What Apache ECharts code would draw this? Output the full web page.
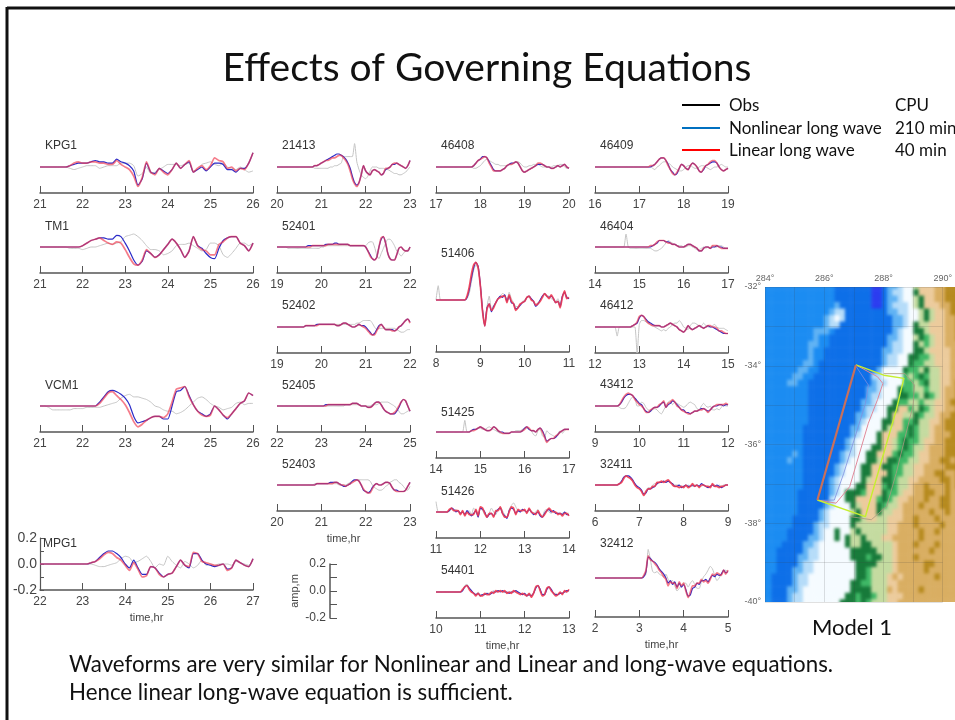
<!DOCTYPE html>
<html>
<head>
<meta charset="utf-8">
<title>Effects of Governing Equations</title>
<script src="https://cdn.jsdelivr.net/npm/echarts@6/dist/echarts.min.js"></script>
<style>
html, body { margin: 0; padding: 0; background: #fff; overflow: hidden; }
#mapClip { position: absolute; left: 765px; top: 287px; width: 190px; height: 315px; overflow: hidden; z-index: 1; }
#map { position: absolute; left: -4px; top: -4px; width: 200px; height: 323px; filter: blur(1.6px); }
#main { position: absolute; left: 0; top: 0; width: 955px; height: 720px; z-index: 2; filter: blur(0.45px); }
#slide { position: absolute; left: 0; top: 0; width: 955px; height: 720px; z-index: 3; pointer-events: none; }
</style>
</head>
<body>
<div id="mapClip"><div id="map"></div></div>
<div id="main"></div>
<div id="slide"></div>
<script>
// sample offsets from the start of a panel, hours
var hours5 = [0,.1,.2,.3,.4,.5,.6,.7,.8,.9, 1,1.1,1.2,1.3,1.4,1.5,1.6,1.7,1.8,1.9, 2,2.1,2.2,2.3,2.4,2.5,2.6,2.7,2.8,2.9, 3,3.1,3.2,3.3,3.4,3.5,3.6,3.7,3.8,3.9, 4,4.1,4.2,4.3,4.4,4.5,4.6,4.7,4.8,4.9, 5];
var hours3 = [0,.05,.1,.15,.2,.25,.3,.35,.4,.45, .5,.55,.6,.65,.7,.75,.8,.85,.9,.95, 1,1.05,1.1,1.15,1.2,1.25,1.3,1.35,1.4,1.45, 1.5,1.55,1.6,1.65,1.7,1.75,1.8,1.85,1.9,1.95, 2,2.05,2.1,2.15,2.2,2.25,2.3,2.35,2.4,2.45, 2.5,2.55,2.6,2.65,2.7,2.75,2.8,2.85,2.9,2.95, 3];

// amplitudes in cm
var kpg1Obs = [0,0,0,0,0,0,0,-1,-2,-1, 0,1,1,1,-1,0,1,1,1,3, 3,3,1,-7,-5,0,-5,-4,-2,0, 2,2,2,1,2,3,-3,-2,2,3, 4,2,1,3,0,-1,-2,0,-2,-4, -3];
var kpg1Nonlinear = [0,0,0,0,0,0,0,1,2,3, 3,3,4,5,4,4,3,3,6,4, 3,1,-3,-14,-9,3,-4,-5,-1,-3, -5,-2,3,-1,2,4,-4,-2,0,-3, 0,3,3,2,-2,-2,-4,-1,-1,3, 11];
var kpg1Linear = [0,0,0,0,0,0,0,1,3,4, 3,3,4,4,3,3,2,2,5,2, 0,-2,-7,-15,-8,4,-4,-6,-1,-4, -6,-2,3,-1,2,5,-4,-1,1,-2, 1,7,5,4,-1,0,-3,-1,-2,3, 11];

var tm1Obs = [0,0,0,0,0,0,0,-1,-1,-1, -2,-1,0,0,1,2,3,2,3,4, 8,9,10,8,5,1,-2,-2,-3,-6, -5,-3,1,2,2,3,1,-1,-3,-2, 3,3,1,-6,-8,-5,-1,3,3,1, 3];
var tm1Nonlinear = [0,0,0,0,0,0,0,0,0,0, 1,3,5,6,7,7,6,6,9,8, 3,-3,-10,-14,-11,-3,-5,-8,-6,-2, 2,6,3,-2,-8,-3,8,1,-1,-5, -8,-9,-1,5,7,8,8,3,1,-3, 3];
var tm1Linear = [0,0,0,0,0,0,0,0,0,0, 1,3,5,6,7,5,3,2,4,3, -2,-8,-13,-14,-10,-2,-5,-8,-6,-2, 2,6,3,-2,-8,-3,8,1,-2,-3, -6,-6,2,4,7,8,8,3,1,-3, 3];

var vcm1Obs = [0,0,-1,-3,-3,-3,-3,-3,-2,-2, -2,-1,-1,-1,-1,0,1,2,3,6, 8,9,7,7,6,5,3,0,-1,-3, -4,-4,-6,-5,-3,0,3,6,7,5, 2,0,-1,-3,-2,-1,2,3,1,2, 2];
var vcm1Nonlinear = [0,0,0,0,0,0,0,0,0,0, 0,0,0,0,3,7,11,12,11,9, 6,1,-8,-13,-12,-11,-9,-8,-8,-10, -10,0,11,12,15,8,1,-4,-6,-8, -6,0,-3,-7,-10,-6,-2,2,4,10, 8];
var vcm1Linear = [0,0,0,0,0,0,0,0,0,0, 0,0,0,0,2,6,10,11,8,5, 1,-5,-12,-16,-14,-11,-9,-8,-8,-9, -6,3,13,14,15,7,1,-4,-7,-8, -7,0,-3,-7,-9,-6,-2,2,4,10, 8];

var mpg1Obs = [0,0,0,0,0,0,0,0,0,0, 0,0,0,-1,-2,-2,-1,0,1,4, 6,5,1,2,4,6,2,-3,0,-1, 6,2,-1,-3,2,0,-3,-1,3,-1, 0,-1,0,0,0,-1,2,1,0,-1, 3];
var mpg1Nonlinear = [0,0,0,0,0,0,0,0,0,0, 0,0,1,2,5,8,10,10,8,5, 0,-3,3,-3,-8,-8,-2,-3,-7,-10, -8,-7,-2,3,-1,-3,8,8,3,0, -1,-2,-1,0,-4,-3,3,1,-1,-2, 4];
var mpg1Linear = [0,0,0,0,0,0,0,0,0,0, 0,0,1,2,4,7,9,8,5,3, -1,-5,1,-4,-10,-9,-2,-3,-8,-10, -8,-7,-2,3,-1,-2,9,8,2,1, 0,-1,-1,0,-5,-3,3,1,-1,-2, 4];

var s21413Obs = [0,0,0,0,0,0,0,0,0,0, 0,0,0,0,0,0,0,-1,-1,-1, -1,-1,-1,-1,0,0,1,1,2,3, 8,8,8,8,8,18,4,-2,-6,-8, -9,-7,-3,0,0,0,-1,-1,-1,-2, -2,-3,-4,-5,-5,-6,-6,-5,-4,-2, 0];
var s21413Nonlinear = [0,0,0,0,0,0,0,0,0,0, 0,0,0,0,0,0,0,1,1,2, 3,4,5,6,7,8,9,10,10,9, 8,6,3,-1,-7,-12,-14,-12,-6,1, -3,-5,-6,-3,-2,-3,-4,-6,-5,-2, -1,0,2,2,3,2,1,0,-1,1, 5];
var s21413Linear = [0,0,0,0,0,0,0,0,0,0, 0,0,0,0,0,0,0,1,1,2, 3,4,5,5,6,7,7,8,9,9, 7,5,2,-3,-9,-13,-15,-12,-6,1, -3,-5,-6,-3,-2,-3,-4,-6,-5,-1, -1,0,2,3,3,2,1,0,-1,1, 5];

var s52401Obs = [0,0,0,0,0,-1,-1,-1,-1,-1, -1,-1,-1,-1,-1,-1,-1,-1,-1,-1, 0,0,1,1,1,1,1,1,1,1, 1,1,1,1,1,1,1,1,1,1, 1,3,4,4,0,-6,-9,-5,-1,3, 6,6,4,1,-3,-5,-7,-5,-3,-2, 0];
var s52401Nonlinear = [0,0,0,0,0,0,0,0,0,0, 0,0,0,0,1,1,1,1,1,1, 1,1,2,2,2,2,3,3,2,2, 2,2,2,1,1,1,1,1,1,1, 0,-3,-6,-9,-10,-8,0,6,8,3, -5,-9,-10,-10,-6,-1,0,-2,-3,-3, 0];
var s52401Linear = [0,0,0,0,0,0,0,0,0,0, 0,0,0,0,0,0,1,1,1,1, 1,1,1,2,2,2,2,2,2,2, 2,2,2,1,1,1,1,1,1,1, 0,-3,-7,-9,-10,-8,0,7,8,3, -5,-9,-10,-10,-6,-1,0,-2,-3,-3, 0];

var s52402Obs = [0,0,0,0,0,0,0,0,0,0, 0,0,0,1,1,1,1,1,2,2, 2,2,2,2,2,2,2,2,2,2, 2,2,2,2,2,2,3,3,4,5, 5,5,5,3,0,-2,-1,-1,-1,-1, -1,-1,-1,-1,-2,-3,-4,-4,-3,-2, -2];
var s52402Nonlinear = [0,0,0,0,0,0,0,0,0,0, 0,0,0,1,1,1,1,1,2,2, 2,2,2,2,2,2,2,1,1,2, 3,3,2,1,0,0,1,2,1,1, 0,-2,-4,-6,-5,-2,1,2,0,-2, -2,-2,-2,-3,-2,0,1,3,5,6, 4];
var s52402Linear = [0,0,0,0,0,0,0,0,0,0, 0,0,0,1,1,1,1,1,1,2, 2,2,2,2,2,2,2,1,1,2, 3,3,2,1,0,0,1,2,1,0, -1,-3,-5,-6,-6,-3,0,2,0,-2, -2,-2,-3,-3,-2,0,1,3,5,6, 3];

var s52405Obs = [0,0,0,0,0,0,0,0,0,0, 0,0,0,0,0,0,0,0,0,0, 0,0,0,0,0,0,0,0,0,0, 0,1,1,1,1,1,1,1,0,0, 0,0,0,1,1,1,2,3,3,3, 3,2,1,0,-2,-4,-6,-6,-5,-4, -3];
var s52405Nonlinear = [0,0,0,0,0,0,0,0,0,0, 0,0,0,0,0,0,0,0,0,0, 0,0,1,1,1,1,1,1,1,1, 1,1,1,1,2,2,2,1,0,0, 0,-1,-1,0,2,3,3,1,-2,-4, -5,-6,-6,-6,-4,-1,3,5,4,0, -4];
var s52405Linear = [0,0,0,0,0,0,0,0,0,0, 0,0,0,0,0,0,0,0,0,0, 0,0,0,1,1,1,1,1,1,1, 1,1,1,1,2,2,2,1,0,0, 0,-1,-1,0,2,3,3,1,-2,-4, -5,-6,-6,-5,-3,0,3,5,4,0, -4];

var s52403Obs = [0,0,0,0,0,0,0,0,0,0, 0,0,0,0,0,0,0,1,1,1, 1,1,1,1,1,1,1,1,0,0, 0,0,1,2,3,3,4,4,4,4, 4,4,3,0,-2,-3,-4,-4,-3,-1, 0,2,3,4,4,2,1,-1,-3,-4, -1];
var s52403Nonlinear = [0,0,0,0,0,0,0,0,0,0, 0,0,0,0,0,0,0,0,1,1, 1,1,1,1,2,2,2,2,1,0, -1,-1,0,1,3,4,4,3,0,-4, -5,-6,-5,-2,0,1,0,0,1,2, 2,1,-2,-4,-4,-5,-5,-5,-4,-1, 2];
var s52403Linear = [0,0,0,0,0,0,0,0,0,0, 0,0,0,0,0,0,0,0,1,1, 1,1,1,1,1,1,2,2,1,0, 0,-1,0,1,2,3,4,3,0,-3, -5,-6,-6,-3,0,1,0,0,1,2, 2,1,-2,-4,-5,-5,-5,-5,-4,-1, 2];

var s46408Obs = [0,0,0,0,0,0,0,0,0,0, 0,0,0,0,0,0,0,-1,-1,0, 1,3,5,6,5,4,3,2,2,1, 1,1,1,2,2,3,4,4,3,1, 0,0,1,1,2,2,2,1,0,0, 0,0,0,1,1,1,2,2,0,-1, -1];
var s46408Nonlinear = [0,0,0,0,0,0,0,0,0,0, 0,0,0,0,0,0,0,1,3,5, 6,8,8,7,4,1,-2,-3,-3,-3, -2,-1,1,2,3,3,4,3,0,-3, -4,-3,-2,-1,0,1,2,2,2,1, 0,0,-1,-1,0,1,0,1,2,0, -1];
var s46408Linear = [0,0,0,0,0,0,0,0,0,0, 0,0,0,0,0,0,0,1,3,5, 6,7,8,7,3,0,-3,-3,-3,-3, -2,-1,1,2,2,3,4,3,0,-3, -4,-3,-2,-1,0,1,3,3,2,1, 0,0,-1,-1,0,1,0,1,2,0, -1];

var s51406Obs = [0,11,0,0,0,0,0,0,0,0, 0,0,0,0,1,5,14,23,27,24, 11,-7,-18,-5,3,-7,-4,-2,1,3, 5,4,-1,6,1,-2,-5,-5,-3,-1, 0,2,2,1,-1,-3,-2,0,3,4, 3,3,1,0,-1,1,-3,3,5,3, 1];
var s51406Nonlinear = [0,0,0,0,0,0,0,0,0,0, 0,0,0,0,2,8,17,25,29,26, 12,-8,-20,-6,-3,-9,-5,-2,1,3, 2,4,-1,3,-2,-3,-7,-6,-4,-2, -1,2,3,1,-1,-5,-3,0,3,5, 3,2,3,1,-2,-1,-5,3,6,2, 1];
var s51406Linear = [0,0,0,0,0,0,0,0,0,0, 0,0,0,0,3,10,20,27,29,25, 11,-9,-20,-7,-3,-8,-6,-2,1,2, 3,3,-2,4,-1,-3,-8,-6,-3,-2, -1,2,3,0,-1,-4,-3,-1,2,5, 3,1,4,1,-2,-1,-6,2,7,1, 2];

var s51425Obs = [0,0,0,0,0,0,0,0,0,0, 0,0,0,9,0,0,1,2,2,3, 3,2,2,3,4,3,2,1,0,-1, -1,-1,-1,-1,0,0,1,1,1,2, 3,3,2,1,-2,-3,1,2,-3,-4, 1,-1,-2,-3,-4,-1,1,-1,1,2, 2];
var s51425Nonlinear = [0,0,0,0,0,0,0,0,0,0, 0,0,0,0,0,0,1,2,2,3, 4,3,2,1,1,2,4,3,1,0, 0,-1,-1,-1,0,0,0,0,0,1, 3,4,2,1,1,0,2,3,1,-3, -7,-6,-5,-5,-4,-2,0,1,2,2, 2];
var s51425Linear = [0,0,0,0,0,0,0,0,0,0, 0,0,0,0,0,0,1,1,2,3, 4,3,2,1,1,2,4,3,1,0, -1,-1,-1,-1,0,0,0,0,0,1, 2,4,3,1,1,0,2,3,0,-4, -8,-6,-5,-5,-3,-2,0,1,2,2, 2];

var s51426Obs = [8,0,0,0,0,0,1,2,1,2, 0,-1,1,-2,0,1,-2,3,1,-3, 3,1,-2,-3,-1,3,0,-2,2,4, 1,-2,-4,2,5,7,4,1,0,2, 1,-1,2,1,-1,0,2,-2,-3,1, 2,0,-1,1,0,-1,-2,-1,0,-1, -1];
var s51426Nonlinear = [0,0,0,0,0,0,1,3,2,0, 1,-1,0,-2,1,-1,-3,-1,1,-4, 3,2,0,-4,-2,-1,-3,0,2,3, -1,-3,-5,1,3,2,-1,1,0,2, 1,0,2,0,-2,-1,0,-3,-4,-1, 1,2,0,1,-1,-1,-1,-2,0,-2, -2];
var s51426Linear = [0,0,0,0,0,0,2,3,1,1, 1,-2,1,-3,0,-2,-2,-2,2,-3, 4,3,-1,-4,-1,-1,-4,1,1,4, -1,-4,-4,0,4,3,-2,2,1,1, 2,-1,3,0,-1,-2,1,-2,-4,-2, 1,3,1,0,0,-2,-1,-3,-1,-1, -3];

var s54401Obs = [0,0,0,0,0,0,0,0,0,0, 0,0,1,5,6,2,1,-1,-2,0, -2,-2,-1,-1,-1,0,1,0,1,1, 0,0,-1,0,0,1,0,0,-1,-2, -1,-3,-1,-2,-1,3,5,1,-2,-1, 3,3,2,-1,-1,-2,0,-1,1,0, 1];
var s54401Nonlinear = [0,0,0,0,0,0,0,0,0,0, 0,0,1,4,5,3,1,-1,-2,-1, -3,-2,-2,-1,-2,-1,0,0,1,0, 1,0,0,-1,0,0,1,0,-1,-2, -1,-3,-2,-3,-1,3,5,2,-2,-2, 2,4,2,-1,-2,-2,-1,-1,0,1, 1];
var s54401Linear = [0,0,0,0,0,0,0,0,0,0, 0,0,2,4,5,2,0,-1,-3,-1, -3,-3,-1,-2,-2,0,-1,1,0,1, 0,1,-1,0,-1,1,0,-1,-2,-1, -2,-3,-1,-4,-1,4,5,1,-3,-2, 3,4,1,-1,-3,-2,0,-2,1,0, 2];

var s46409Obs = [0,0,0,0,0,0,0,0,0,0, 0,0,0,0,0,0,0,0,0,0, 0,0,0,0,0,0,-1,-2,0,1, 3,4,4,3,2,0,-1,-2,-3,-3, -2,0,1,1,0,-1,-1,0,1,1, 0,-1,-2,-1,0,0,1,2,1,0, 0];
var s46409Nonlinear = [0,0,0,0,0,0,0,0,0,0, 0,0,0,0,0,0,0,0,0,0, 0,0,0,0,0,0,1,2,4,6, 7,7,5,2,-2,-4,-6,-5,-1,2, 1,-1,-2,1,3,2,0,-3,-4,-2, 1,2,3,4,4,3,0,-2,-3,-2, -1];
var s46409Linear = [0,0,0,0,0,0,0,0,0,0, 0,0,0,0,0,0,0,0,0,0, 0,0,0,0,0,1,1,2,4,6, 7,7,5,1,-2,-5,-6,-4,-1,2, 1,-1,-2,1,3,2,0,-3,-4,-1, 1,2,4,5,5,3,0,-2,-3,-2, -1];

var s46404Obs = [0,0,0,0,0,0,0,0,0,0, 0,0,0,0,10,0,-1,-1,-1,-1, -1,-1,-1,-1,-1,-1,-2,-3,-3,-2, -1,1,3,5,4,3,2,1,1,1, 0,0,1,1,0,-1,-2,-2,-1,0, -1,0,-1,1,0,0,1,1,0,-1, -1];
var s46404Nonlinear = [0,0,0,0,0,0,0,0,0,0, 0,0,0,0,0,0,0,0,0,0, 0,0,0,0,0,0,1,2,3,5, 5,5,4,4,3,2,2,1,0,0, 0,1,2,2,1,0,-1,-3,-3,-1, 0,0,-1,0,0,1,0,0,-1,-1, -1];
var s46404Linear = [0,0,0,0,0,0,0,0,0,0, 0,0,0,0,0,0,0,0,0,0, 0,0,0,0,0,1,1,2,4,5, 5,5,4,3,3,2,2,1,0,0, 0,1,2,2,1,0,-1,-3,-3,-1, 0,0,-1,1,1,1,0,-1,-1,-1, -1];

var s46412Obs = [0,0,0,0,0,0,0,0,0,0, -7,0,0,0,0,0,0,0,0,-20, 2,5,5,4,3,2,1,0,-1,-2, -3,-2,-3,-1,0,2,3,3,5,3, 0,-1,-2,1,3,3,2,1,1,3, 1,0,0,1,2,0,-1,-1,-1,-2, -3];
var s46412Nonlinear = [0,0,0,0,0,0,0,0,0,0, 0,0,0,0,0,0,0,1,2,3, 7,9,8,6,4,3,2,1,1,1, 0,0,1,2,3,2,1,0,-2,-3, -4,-2,1,-1,-2,-1,0,1,0,-1, 0,1,0,0,-1,-2,-3,-4,-5,-5, -5];
var s46412Linear = [0,0,0,0,0,0,0,0,0,0, 0,0,0,0,0,0,0,1,2,4, 8,9,8,5,3,2,1,1,1,1, 0,0,1,2,3,2,1,0,-2,-3, -4,-2,1,-1,-2,-1,0,1,0,-1, 0,1,1,0,0,-1,-3,-3,-4,-5, -5];

var s43412Obs = [0,0,0,0,0,0,0,0,0,0, 0,-1,-2,-2,-1,2,5,7,6,0, 0,3,2,-1,-3,-4,-3,-2,-3,-5, -6,-3,0,3,4,1,3,2,1,0, -1,0,2,3,2,1,-2,-3,0,2, 0,-1,0,-3,-3,-2,-3,-1,1,0, 0];
var s43412Nonlinear = [0,0,0,0,0,0,0,0,0,0, 0,1,3,6,8,9,9,8,6,4, 2,1,-2,-4,-5,-4,-2,-1,-1,0, 2,3,-1,1,2,4,3,1,-1,-3, -3,-5,-5,-6,-5,-4,-4,-3,-2,-2, -3,-4,-3,-1,0,0,1,1,0,1, 1];
var s43412Linear = [0,0,0,0,0,0,0,0,0,0, 0,1,4,7,9,10,9,8,5,3, 1,0,-2,-5,-5,-3,-2,-1,-1,1, 2,4,-1,2,3,5,3,0,-1,-3, -4,-5,-6,-6,-5,-4,-4,-3,-3,-2, -3,-5,-3,-1,0,1,1,1,1,2, 1];

var s32411Obs = [0,0,0,0,0,0,0,0,0,0, 0,1,3,6,7,6,5,3,1,-1, -3,-5,-7,-4,-2,-2,0,1,1,2, 2,3,2,3,2,1,0,0,0,-1, -1,-1,0,-1,-1,0,0,-1,-1,0, -1,-1,-1,0,0,-1,0,-1,0,0, 0];
var s32411Nonlinear = [0,0,0,0,0,0,0,0,0,0, 0,1,3,6,7,7,6,4,1,-1, -2,-4,-7,-6,-3,-3,-2,-1,1,2, 2,3,2,3,2,1,-1,-1,0,-2, -1,0,-1,-1,0,-1,0,-1,1,0, -1,-2,-1,0,-1,0,-1,-2,-1,0, 0];
var s32411Linear = [0,0,0,0,0,0,0,0,0,0, 0,1,2,5,7,6,5,3,0,-2, -3,-5,-8,-5,-3,-3,-1,-1,2,2, 3,2,3,4,2,0,-1,-1,-2,-1, -2,0,-2,-1,1,-1,0,-2,0,0, -1,-1,-2,1,-1,-1,-2,-1,-1,0, 0];

var s32412Obs = [0,0,0,0,0,0,0,0,0,0, 0,0,0,0,0,0,0,0,0,0, 0,0,1,3,22,14,5,4,5,3, 2,1,3,-1,-3,-2,-6,-10,-8,-6, -4,-4,-7,-4,-2,-5,-8,-8,-3,1, 3,6,9,7,2,-2,0,3,5,6, 5];
var s32412Nonlinear = [0,0,0,0,0,0,0,0,0,0, 0,0,0,0,0,0,0,0,0,0, 0,0,1,5,16,15,13,12,10,7, 5,3,0,-4,-2,-5,-3,-7,-4,-7, -5,-9,-14,-13,-8,-7,-4,-5,-2,-2, -1,-3,0,2,1,3,2,3,6,4, 5];
var s32412Linear = [0,0,0,0,0,0,0,0,0,0, 0,0,0,0,0,0,0,0,0,0, 0,0,2,6,17,14,13,11,9,6, 4,1,-1,-6,-3,-4,-4,-8,-3,-6, -4,-10,-15,-11,-6,-6,-4,-4,-1,-3, -2,-4,-1,3,2,4,3,2,6,3, 6];

var slideTitle = 'Effects of Governing Equations';
var noteLines = ['Waveforms are very similar for Nonlinear and Linear and long-wave equations.', 'Hence linear long-wave equation is sufficient.'];
var legendNames = ['Obs', 'Nonlinear long wave', 'Linear long wave'];
var cpuNotes = ['CPU', '210 min', '40 min'];

// station, first hour, length in hours, obs, nonlinear, linear
var panels = [
	['KPG1', 21, 5, kpg1Obs, kpg1Nonlinear, kpg1Linear],
	['TM1', 21, 5, tm1Obs, tm1Nonlinear, tm1Linear],
	['VCM1', 21, 5, vcm1Obs, vcm1Nonlinear, vcm1Linear],
	['MPG1', 22, 5, mpg1Obs, mpg1Nonlinear, mpg1Linear],
	['21413', 20, 3, s21413Obs, s21413Nonlinear, s21413Linear],
	['52401', 19, 3, s52401Obs, s52401Nonlinear, s52401Linear],
	['52402', 19, 3, s52402Obs, s52402Nonlinear, s52402Linear],
	['52405', 22, 3, s52405Obs, s52405Nonlinear, s52405Linear],
	['52403', 20, 3, s52403Obs, s52403Nonlinear, s52403Linear],
	['46408', 17, 3, s46408Obs, s46408Nonlinear, s46408Linear],
	['51406', 8, 3, s51406Obs, s51406Nonlinear, s51406Linear],
	['51425', 14, 3, s51425Obs, s51425Nonlinear, s51425Linear],
	['51426', 11, 3, s51426Obs, s51426Nonlinear, s51426Linear],
	['54401', 10, 3, s54401Obs, s54401Nonlinear, s54401Linear],
	['46409', 16, 3, s46409Obs, s46409Nonlinear, s46409Linear],
	['46404', 14, 3, s46404Obs, s46404Nonlinear, s46404Linear],
	['46412', 12, 3, s46412Obs, s46412Nonlinear, s46412Linear],
	['43412', 9, 3, s43412Obs, s43412Nonlinear, s43412Linear],
	['32411', 6, 3, s32411Obs, s32411Nonlinear, s32411Linear],
	['32412', 2, 3, s32412Obs, s32412Nonlinear, s32412Linear]
];

// map of the source region, one letter per cell, top row first
var mapRows = [
	'CCCCCCCCCCCCCCBBBBBBBAABDDEFFIJJJKKLLL',
	'CCCCCCCCCCCCCCBBBBBBBAABDEEFFGJJJKKLLL',
	'CCCCCCCCCCCCCCBBBBBBBAABDDEFFIGJJKKLLL',
	'CCCCCCCCCCCCCCDBBBBBBAABDEEEFIGJJJKKLL',
	'CCCCCCCCCCCCCDEEBBBBBBBBDDEEFFIGIJJKLL',
	'CCCCCCCCCCCCDEFEBBBBBBBBBDDEFFIGIJJKKL',
	'CCCCCCCCCCCCDEEBBBBBBBBBBDDEFGIIJJJKKL',
	'CCCCCCCCCCDDDCBBBBBBBBBBBDEFFGGIJJJKKL',
	'CCCCCCCCCCDCCBBBBBBBBBBBDDEFFIGHIJJKKL',
	'CCCCCCCCCDDCCBBBBBBBBBBBDEEFFGIHIJJKKK',
	'CCCCCCCCCDCCBBBBBBBBBBBDDEEFFGGIJJJJKK',
	'CCCCCCCCCDCCBBBBBBBBBBBDEEFFGGHHIJJJKK',
	'CCCCCCCCDDCBBBBBBBBBBBBDEEFFGHHIIJJJKK',
	'CCCCCCCDDCCBBBBBBBBBBBDFFFFGHHIGIIJJKK',
	'CCCCCCDDCCBBBBBBBBBBBEEFFFFHIHGHIIJJKK',
	'CCCCCDDCCBBBBBBBBBBBBDEEFFFHHIHGIIJJKL',
	'CCCCCCCCCBBBBBBBBBBBDDEFFFGHHIIHIIJKKL',
	'CCCCCCCCCBBBBBBBBBBBDEEFFFGGHHIGHIJKKL',
	'CCCCCCCCCBBBBBBBBBBDDEFFFGHHIIHIIJJKLL',
	'CCCCCCCCCBBBBBBBBBBDEEFFGGJJHIGHIJJKKL',
	'CCCCCCCCCBBBBBBBBBDDEFFFGJJIIGHIIJKKLL',
	'CCCCCCCCCBBBBBBBBBDEFFFGGJJHHGIIJJKLLL',
	'CCCCCCCCBBBBBBBBBDDFFFFGIJJHGHIIJKKLLL',
	'CCCCCCCCBBBBBBBBBDEFFFGJJJHHGHIIJKKKLL',
	'CCCCCCCCBBBBBBBBDEFFFFGJJIHGHHIJJKKLLL',
	'CCCCCCCCBBBBBBBBDEFFFGGJJIHGHIIJKKKLLL',
	'CCCCCCDCBBBBBBBDEEFFGGJJJHGHHIJJKKKLLL',
	'CCCCCDCCBBBBBBBDEFFFGGIJGGHHIIJJKKLLKL',
	'CCCCCCCCBBBBBBDEFFFGGJJGGHHIIJJKKKKLLL',
	'CCCCCCCCBBBBBBDEFFFGGJJJGHHIIJJKKLLKKL',
	'CCCCCCCCBBBBBDEFFFFGIJJGGHIIJJKKKKLLKL',
	'CCCCCCCCBBBBBDEFFFGGJJJHGHIIJKKLKKKLKL',
	'CCCCCCCBBBBBBDEFGGGHJJJGHHIJJKKLLKKLKK',
	'CCCCCCCBBBBBBEFFGGJJJJHGHIJJKKKLKKLLKK',
	'CCCCCCCBBBBBDEFFFGIJJJGHIIJKKKLKKKLLKK',
	'CCCCCCCBBBBDEFFFFIGJJJGIIJJKKKKKLKKLKK',
	'CCCCCCBBBBBDEFFFFGGIJJIIJJJKKLKKKLKKKK',
	'CCCCCCBBBBDEEFFFFGIIIIIIJJKKKLKKKKLKKK',
	'CCCCCBBBBBDEFFGFFIGIIIIIJJKKKKLKKLKKKK',
	'CCCCCBBBBDDEFFGFGIIGIIIJJKKKKKLKKKKKKK',
	'CCCCBBBBDDEFFFFFGIIGGIIIIJKKKLKKKLKKKK',
	'CCCBBBBBDEEFFFFFFGGGGGIIIJKKKKKKLKKKKK',
	'CCCBBBBDDEEFFFFFFGGGHGGIIJKKKLKKKKKKKK',
	'CCCBBBBDEEFFFFFFFFGGGGIIIJKKKKKLLKKKKK',
	'CCCBBBDDEEFFFFFFFFGGHIIIIJKKKKKLKKKKKK',
	'CCBBBBDEEFFFFFFFFFGGHIIIJKJKKKKKKLKKKK',
	'CCBBBBDEEFFFFFFFFGGHHIIIJJKKKKKKKKKKKK',
	'CCBBBDDEFFFFFFFFFGGGGIIIKJKKKKLKKKKKKK',
	'CCBBBDEEFFFFFFFFGGHGGHIIJJJKKKKKKKKKKK',
	'CCBBBDEEFFFFFFFGGGHGHIIIJJKKKKKKKKKKKK'
];
var mapCodes = 'ABCDEFGHIJKL';
var mapColors = ['#2b3cf0', '#0d6fe8', '#1b8cf2', '#5fb2f4', '#b5dcf9', '#f5fbff', '#177a3a', '#3fb866', '#c4dba0', '#eccb9c', '#d9ae62', '#b68a1e'];

// source outlines as [lon, lat]
var faultOuter = [[287.07,-33.98],[285.77,-37.41]];
var faultPlane = [[287.07,-33.98],[288.01,-34.24],[288.69,-34.32],[288.43,-35.13],[287.39,-37.83],[285.77,-37.41]];
var sourcePink = [[287.07,-33.98],[287.80,-34.28],[287.98,-34.45],[287.80,-34.86],[287.49,-35.46],[286.86,-37.07],[286.40,-37.49],[285.77,-37.41]];
var sourceBlue = [[287.07,-34.01],[287.49,-34.49],[287.39,-34.96],[286.66,-36.73],[286.34,-37.41],[285.82,-37.42]];
var landContour = [[288.01,-34.2],[288.73,-34.2],[289.05,-34.49],[289.0,-35.0],[288.43,-36.73],[288.11,-37.57],[287.59,-37.91],[286.86,-37.83]];

// placement of each panel on the slide: left, width, axis y, y range cm, label y
var panelPlace = {
	'KPG1': [40, 213, 193, 20, 146], 'TM1': [40, 213, 273, 20, 227], 'VCM1': [40, 213, 432, 20, 386], 'MPG1': [40, 213, 590, 20, 544],
	'21413': [277, 133, 193, 20, 146], '52401': [277, 133, 273, 20, 227], '52402': [277, 133, 353, 20, 306], '52405': [277, 133, 432, 20, 386], '52403': [277, 133, 511, 20, 465],
	'46408': [436, 133, 193, 20, 146], '51406': [436, 133, 352, 40, 254], '51425': [436, 133, 458, 20, 413], '51426': [436, 133, 538, 20, 492], '54401': [436, 133, 618, 20, 571],
	'46409': [595, 133, 193, 20, 146], '46404': [595, 133, 273, 20, 227], '46412': [595, 133, 353, 20, 306], '43412': [595, 133, 432, 20, 385], '32411': [595, 133, 511, 20, 465], '32412': [595, 133, 617, 30, 544]
};
var withTimeName = { 'MPG1': 1, '52403': 1, '54401': 1, '32412': 1 };
// panels where the linear trace reads clearly red on top
var redOnTop = { '51406': 1, '51426': 1, '54401': 1, '32411': 1 };

var axisFont = 'Liberation Sans';
var slideFont = 'Lato';
var axisColor = '#555';
var labelColor = '#444';

function pairs(start, hours, values) {
	var out = [];
	for (var i = 0; i < values.length; i++) {
		out.push([start + hours[i], values[i]]);
	}
	return out;
}

function ampLabel(v) {
	return v % 20 == 0 ? (v / 100).toFixed(1) : '';
}

function degLabel(v) {
	return v % 2 == 0 ? v + '°' : '';
}

var grids = [], xAxes = [], yAxes = [], series = [], titles = [];

function buildPanels() {
	for (var i = 0; i < panels.length; i++) {
		var p = panels[i], place = panelPlace[p[0]];
		var range = place[3], h = range * 2.6, idx = grids.length;
		var hours = p[2] == 5 ? hours5 : hours3;
		var isMpg = p[0] == 'MPG1';
		grids.push({ left: place[0], width: place[1], top: place[2] - h, height: h });
		xAxes.push({
			type: 'value', gridIndex: idx, min: p[1], max: p[1] + p[2], interval: 1,
			splitLine: { show: false },
			axisLine: { onZero: false, lineStyle: { color: axisColor, width: 1.5 } },
			axisTick: { inside: true, length: 7, lineStyle: { color: axisColor } },
			axisLabel: { color: labelColor, fontFamily: axisFont, fontSize: 12, margin: 6, showMinLabel: true, showMaxLabel: true },
			name: withTimeName[p[0]] ? 'time,hr' : '', nameLocation: 'middle', nameGap: 22,
			nameTextStyle: { color: labelColor, fontFamily: axisFont, fontSize: 11 }
		});
		yAxes.push({
			type: 'value', gridIndex: idx, min: -range, max: range, interval: 10, show: isMpg,
			splitLine: { show: false },
			axisLine: { lineStyle: { color: axisColor, width: 1.2 } },
			axisTick: { inside: true, length: 4, lineStyle: { color: axisColor } },
			axisLabel: { color: labelColor, fontFamily: axisFont, fontSize: 14, margin: 3, formatter: ampLabel, showMinLabel: true, showMaxLabel: true }
		});
		var styles = [['#c4c4c4', 1, 1], ['#2a2ac8', 1.2, 1], ['#f0384e', 1.7, redOnTop[p[0]] ? 0.88 : 0.66]];
		for (var k = 0; k < 3; k++) {
			series.push({
				type: 'line', xAxisIndex: idx, yAxisIndex: idx, data: pairs(p[1], hours, p[3 + k]),
				showSymbol: false, smooth: 0.2, silent: true, animation: false, clip: false,
				lineStyle: { color: styles[k][0], width: styles[k][1], opacity: styles[k][2] }
			});
		}
		titles.push({
			text: p[0], left: place[0] + (isMpg ? 3 : 5), top: place[4] - 7,
			textStyle: { color: '#333', fontFamily: axisFont, fontSize: 12, fontWeight: 'normal', lineHeight: 14 }, padding: 0
		});
	}
}

// stand-alone amplitude scale in the second column
function buildAmpScale() {
	var idx = grids.length;
	grids.push({ left: 330, width: 10, top: 564, height: 54 });
	xAxes.push({ type: 'value', gridIndex: idx, min: 0, max: 1, show: false });
	yAxes.push({
		type: 'value', gridIndex: idx, min: -20, max: 20, interval: 10,
		splitLine: { show: false },
		axisLine: { lineStyle: { color: axisColor, width: 1.5 } },
		axisTick: { inside: true, length: 7, lineStyle: { color: axisColor } },
		axisLabel: { color: labelColor, fontFamily: axisFont, fontSize: 12, margin: 4, formatter: ampLabel, showMinLabel: true, showMaxLabel: true },
		name: 'amp,m', nameLocation: 'middle', nameRotate: 90, nameGap: 30,
		nameTextStyle: { color: labelColor, fontFamily: axisFont, fontSize: 11 }
	});
}

// lon/lat frame and outlines drawn over the blurred relief
function buildMapFrame() {
	var g = grids.length;
	grids.push({ left: 765, width: 192, top: 287, height: 315 });
	xAxes.push({
		type: 'value', gridIndex: g, position: 'top', min: 284, max: 290, interval: 1,
		axisLine: { show: false }, axisTick: { show: false },
		splitLine: { show: true, lineStyle: { color: 'rgba(60,60,60,0.16)', width: 1 } },
		axisLabel: { color: '#666', fontFamily: axisFont, fontSize: 9, margin: 4, formatter: degLabel, showMaxLabel: true }
	});
	yAxes.push({
		type: 'value', gridIndex: g, min: -40, max: -32, interval: 1,
		axisLine: { show: false }, axisTick: { show: false },
		splitLine: { show: true, lineStyle: { color: 'rgba(60,60,60,0.16)', width: 1 } },
		axisLabel: { color: '#666', fontFamily: axisFont, fontSize: 9, margin: 4, formatter: degLabel, showMinLabel: true, showMaxLabel: true }
	});
	var outlines = [
		[landContour, '#a89a80', 0.8],
		[sourceBlue, '#7f8fe0', 0.8],
		[sourcePink, '#e0899a', 1],
		[faultPlane, '#c6ee30', 1.4],
		[faultOuter, '#c9705c', 2.2]
	];
	for (var j = 0; j < outlines.length; j++) {
		series.push({
			type: 'line', xAxisIndex: g, yAxisIndex: g, data: outlines[j][0],
			showSymbol: false, silent: true, animation: false,
			lineStyle: { color: outlines[j][1], width: outlines[j][2] }
		});
	}
}

buildPanels();
buildAmpScale();
buildMapFrame();

var mapCells = [], mapCols = [], mapLines = [];
for (var r = 0; r < mapRows.length; r++) {
	mapLines.push(r);
	for (var c = 0; c < mapRows[r].length; c++) {
		mapCells.push([c, r, mapCodes.indexOf(mapRows[r].charAt(c))]);
	}
}
for (var n = 0; n < 38; n++) {
	mapCols.push(n);
}

var mapChart = echarts.init(document.getElementById('map'));
mapChart.setOption({
	animation: false,
	grid: { left: 0, right: 0, top: 0, bottom: 0 },
	xAxis: { type: 'category', data: mapCols, show: false },
	yAxis: { type: 'category', data: mapLines, inverse: true, show: false },
	visualMap: {
		type: 'piecewise', show: false, seriesIndex: 0, dimension: 2,
		pieces: mapColors.map(function(color, i) { return { value: i, color: color }; })
	},
	series: [{ type: 'heatmap', data: mapCells, silent: true, animation: false, itemStyle: { borderWidth: 0 } }]
});

var chart = echarts.init(document.getElementById('main'));
chart.setOption({
	animation: false,
	title: titles,
	grid: grids,
	xAxis: xAxes,
	yAxis: yAxes,
	series: series
});

function textAt(x, y, text, size, align) {
	return {
		type: 'text', x: x, y: y,
		style: { text: text, fontFamily: slideFont, fontSize: size, fill: '#111', textAlign: align || 'left', textVerticalAlign: 'middle' }
	};
}

var slide = echarts.init(document.getElementById('slide'));
slide.setOption({
	graphic: [
		{ type: 'line', shape: { x1: 7, y1: 8, x2: 955, y2: 8 }, style: { stroke: '#111', lineWidth: 3 } },
		{ type: 'line', shape: { x1: 7, y1: 7, x2: 7, y2: 720 }, style: { stroke: '#111', lineWidth: 3 } },
		textAt(487, 68, slideTitle, 39, 'center'),
		{ type: 'line', shape: { x1: 682, y1: 105, x2: 720, y2: 105 }, style: { stroke: '#000', lineWidth: 2 } },
		{ type: 'line', shape: { x1: 682, y1: 128, x2: 720, y2: 128 }, style: { stroke: '#0070c0', lineWidth: 2 } },
		{ type: 'line', shape: { x1: 682, y1: 150, x2: 720, y2: 150 }, style: { stroke: '#ff0000', lineWidth: 2 } },
		textAt(729, 106, legendNames[0], 17), textAt(729, 129, legendNames[1], 17), textAt(729, 151, legendNames[2], 17),
		textAt(895, 106, cpuNotes[0], 17), textAt(895, 129, cpuNotes[1], 17), textAt(895, 151, cpuNotes[2], 17),
		textAt(852, 628, 'Model 1', 22, 'center'),
		textAt(69, 665, noteLines[0], 22.3), textAt(69, 693, noteLines[1], 22.3)
	]
});
</script>
</body>
</html>
